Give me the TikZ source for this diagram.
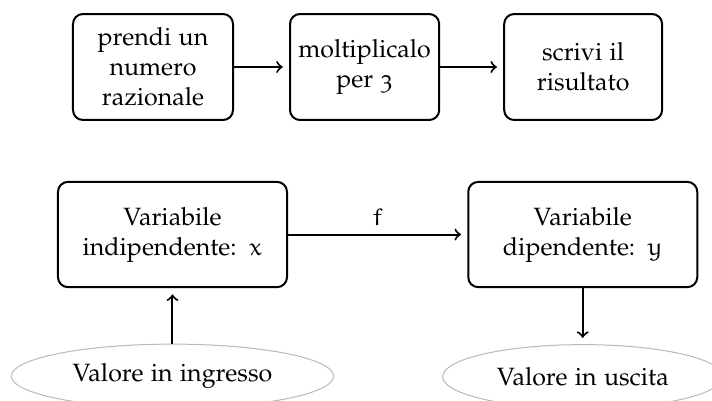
\documentclass[tikz,border=0pt]{standalone}
\usepackage[T1]{fontenc}
\usepackage[osf]{mathpazo}
\DeclareMathAlphabet{\mathlet}{U}{eur}{m}{n}
\usepackage{xcolor}
\usepackage{tikz}
\usetikzlibrary{shapes.geometric, arrows, positioning}

\begin{document}
\begin{tikzpicture}[
        node distance=0.8cm and 0.8cm,
        box/.style={rectangle, draw, thick, rounded corners, minimum height=1.49cm, align=center},
        wide/.style={rectangle, draw, thick, rounded corners, minimum width=3.22cm, minimum height=1.48cm, align=center},
        value/.style={ellipse, draw=gray!55, minimum height=0.9cm},
        arrow/.style={thick, ->, >=to, shorten >=2.5pt}
        ]
        \useasboundingbox (0,0) rectangle (10.01,-5.624);

        % Top Row: the three steps
        \node (take) [box, minimum width=2.25cm] at (2.151,-0.942) {prendi un\\numero\\razionale};
        \node (times) [box, minimum width=2.095cm, right=0.773cm of take] {moltiplicalo\\per 3};
        \node (write) [box, minimum width=2.22cm, right=0.886cm of times] {scrivi il\\risultato};

        \draw [arrow] (take) -- (times);
        \draw [arrow] (times) -- (write);

        % Bottom Row: variables
        \node (indep) [wide] at (2.425,-3.297) {Variabile\\indipendente:\enspace$\mathlet{x}$};
        \node (dep) [wide, right=2.52cm of indep] {Variabile\\dipendente:\enspace$\mathlet{y}$};

        \draw [arrow] (indep) -- node[above] {$\mathlet{f}$} (dep);

        % Input and output values
        \node (input) [value, minimum width=4.53cm, below=0.78cm of indep] {Valore in ingresso};
        \node (output) [value, minimum width=3.94cm, below=0.787cm of dep] {Valore in uscita};

        \draw [arrow] (input) -- (indep);
        \draw [arrow] (dep) -- (output);

    \end{tikzpicture}
\end{document}
